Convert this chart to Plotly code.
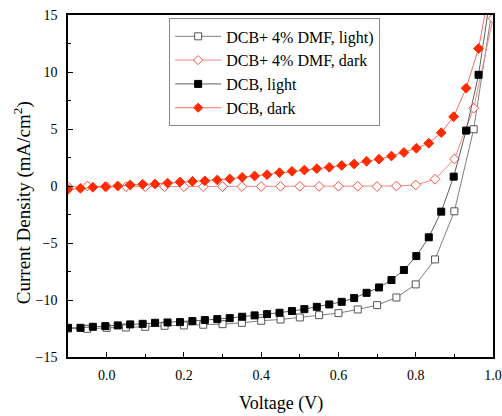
import plotly.graph_objects as go

# DCB series: voltage step ~0.0322 V from -0.1
dcb_v = [-0.1 + k * 0.0322 for k in range(35)]
dcb_light = [-12.44, -12.44, -12.35, -12.29, -12.23, -12.14, -12.09, -12.0, -11.97, -11.94,
             -11.85, -11.76, -11.68, -11.59, -11.47, -11.35, -11.24, -11.12, -10.97, -10.8,
             -10.6, -10.39, -10.16, -9.83, -9.37, -8.9, -8.25, -7.37, -6.15, -4.5,
             -2.25, 0.82, 4.86, 9.75, 17.0]
dcb_dark = [-0.29, -0.2, -0.11, -0.06, 0.0, 0.09, 0.15, 0.18, 0.26, 0.35,
            0.41, 0.45, 0.53, 0.62, 0.76, 0.88, 0.99, 1.17, 1.29, 1.40,
            1.52, 1.64, 1.80, 1.93, 2.17, 2.35, 2.63, 2.94, 3.31, 3.75,
            4.68, 6.08, 8.58, 12.06, 18.0]

# DCB + 4% DMF series: voltage step 0.05 V from -0.1
dmf_v = [-0.1 + k * 0.05 for k in range(23)]
dmf_light = [-12.5, -12.53, -12.44, -12.41, -12.35, -12.26, -12.23, -12.17, -12.12, -12.0,
             -11.82, -11.71, -11.53, -11.33, -11.15, -10.83, -10.45, -9.78, -8.63, -6.44,
             -2.22, 4.98, 16.0]
dmf_dark = [-0.06, 0.0, -0.06, -0.06, -0.06, -0.06, -0.06, -0.05, -0.05, -0.05,
            -0.05, -0.03, -0.03, -0.03, -0.02, -0.02, -0.05, 0.0, 0.09, 0.59,
            2.37, 6.82, 14.7]

names = ["DCB+ 4% DMF, light)", "DCB+ 4% DMF, dark", "DCB, light", "DCB, dark"]
x_title = "Voltage (V)"
y_title = "Current Density (mA/cm<sup>2</sup>)"

FONT = "Times New Roman, Liberation Serif, serif"
RED = "#ff2a00"

styles = [
    dict(x=dmf_v, y=dmf_light, line=dict(color="#808080", width=1),
         sym="square", size=7, fill="white", edge="#555555", lsize=7),
    dict(x=dmf_v, y=dmf_dark, line=dict(color="#f08a80", width=1),
         sym="diamond", size=7.5, fill="white", edge="#f05040", lsize=7),
    dict(x=dcb_v, y=dcb_light, line=dict(color="#606060", width=1),
         sym="square", size=7, fill="black", edge="black", lsize=7),
    dict(x=dcb_v, y=dcb_dark, line=dict(color="#f07060", width=1),
         sym="diamond", size=7.5, fill=RED, edge=RED, lsize=7),
]

fig = go.Figure()
for nm, s in zip(names, styles):
    fig.add_trace(go.Scatter(
        x=s["x"], y=s["y"], name=nm, mode="lines+markers", showlegend=False,
        line=s["line"],
        marker=dict(symbol=s["sym"], size=s["size"], color=s["fill"],
                    line=dict(color=s["edge"], width=1))))
# legend entries (smaller symbols, as in the reference legend)
for nm, s in zip(names, styles):
    fig.add_trace(go.Scatter(
        x=[None], y=[None], name=nm, mode="lines+markers", showlegend=True,
        line=s["line"],
        marker=dict(symbol=s["sym"], size=s["lsize"], color=s["fill"],
                    line=dict(color=s["edge"], width=1))))

fig.update_layout(
    width=502, height=416,
    margin=dict(l=68, r=9, t=15, b=59),
    paper_bgcolor="white", plot_bgcolor="white",
    font=dict(family=FONT, size=14, color="black"),
    showlegend=True,
    legend=dict(x=0.238, y=0.99, xanchor="left", yanchor="top",
                bgcolor="white", bordercolor="#888888", borderwidth=1,
                font=dict(family=FONT, size=16, color="black"),
                itemwidth=46, tracegroupgap=0),
    annotations=[
        dict(text=y_title, xref="paper", yref="paper",
             x=-0.108, y=0.45, xanchor="center", yanchor="middle",
             textangle=-90, showarrow=False,
             font=dict(family=FONT, size=19, color="black")),
        dict(text=x_title, xref="paper", yref="paper",
             x=0.5, y=-0.1355, xanchor="center", yanchor="middle",
             showarrow=False, font=dict(family=FONT, size=18, color="black")),
    ],
)
fig.update_xaxes(
    range=[-0.1, 1.0], tickvals=[0.0, 0.2, 0.4, 0.6, 0.8, 1.0],
    ticktext=["0.0", "0.2", "0.4", "0.6", "0.8", "1.0"],
    ticks="inside", ticklen=5, tickwidth=1, tickcolor="black",
    minor=dict(ticks="inside", ticklen=3, tickwidth=1, tickcolor="black", dtick=0.1, tick0=0.0),
    showline=True, linecolor="black", linewidth=1.5, mirror=True,
    showgrid=False, zeroline=False, automargin=False, ticklabelstandoff=4,
    tickfont=dict(family=FONT, size=14),
)
fig.update_yaxes(
    range=[-15, 15], tickvals=[-15, -10, -5, 0, 5, 10, 15],
    ticks="inside", ticklen=5, tickwidth=1, tickcolor="black",
    minor=dict(ticks="inside", ticklen=3, tickwidth=1, tickcolor="black", dtick=2.5, tick0=0),
    showline=True, linecolor="black", linewidth=1.5, mirror=True,
    showgrid=False, zeroline=False, automargin=False, ticklabelstandoff=6,
    tickfont=dict(family=FONT, size=14),
)

fig.write_html("out.html")
